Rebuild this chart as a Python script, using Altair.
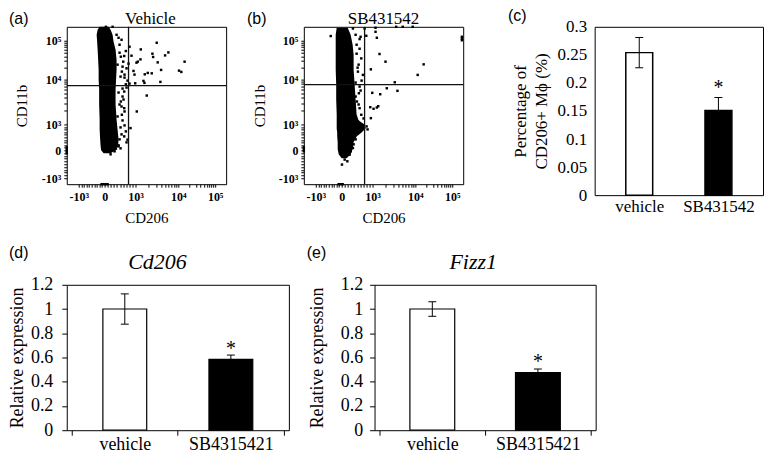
import altair as alt
import pandas as pd
import numpy as np

SERIF = "Liberation Serif"
SANS = "Liberation Sans"

# ---------------- flow cytometry panels (display-channel units) ----------------
flow_x_domain = [0, 160]
flow_y_domain = [0, 158]
flow_x_ticks = [12, 38, 69, 112, 149]
flow_y_ticks = [6, 34, 60, 105, 144]
flow_tick_labels = ["-10³", "0", "10³", "10⁴", "10⁵"]

veh_gate = [62, 99]
sb_gate = [61, 100]

# dense event cloud outline (y level, left edge, right edge)
veh_blob_y = [31, 34, 38, 45, 55, 65, 80, 95, 105, 115, 125, 135, 143, 150, 155, 158]
veh_blob_left = [37, 34.5, 34, 33.5, 33, 33, 32.5, 32.5, 32, 32, 31.5, 31, 30.5, 30, 31, 33]
veh_blob_right = [44, 49, 51.5, 52, 51, 50, 49, 49, 49.5, 50, 50, 49, 47, 46, 44, 42]

veh_pts_x = [74.3, 90.3, 86, 86.7, 102, 98.7, 91.3, 74, 71.3, 70, 118.3, 112.7, 115, 94.7, 85.3,
             81.3, 78.3, 67, 68, 77, 78, 94, 68.7, 80.3, 70.3, 64,
             59.3, 57.7, 54.3, 56.7, 60, 55.3, 58, 59.3, 57.7, 56, 54.3, 57.7, 55.3, 59.3, 57.7,
             52, 49.3, 61, 46, 39.3, 53, 55, 50, 56, 58, 61, 63, 60, 56, 57, 55, 58, 56, 58,
             55, 60, 54, 48, 44, 63, 65, 62, 52, 53, 51, 54, 52, 53, 51, 54, 53, 52,
             0, 0, 0, 0, 35, 37, 39, 41]
veh_pts_y = [135.3, 142, 131, 127.7, 132.3, 129.3, 122.3, 125.3, 123, 122, 123, 114, 112.7, 114.7, 111.3,
             111.7, 110.3, 113.7, 110, 103.7, 101.7, 102.7, 101.3, 89, 73, 56.3,
             133.7, 128.7, 128, 123, 116.3, 113, 107, 100.3, 93, 88, 83, 76.3, 69.7, 53, 48,
             39, 35.7, 44.7, 158, 158, 140, 145, 150, 118, 110, 104, 101, 97, 96, 85, 78, 73, 64, 59,
             50, 42, 36, 33, 30, 138, 129, 121, 147, 132, 120, 108, 92, 80, 68, 57, 45, 38,
             31, 33, 35, 37, 0, 0, 0, 0]

sb_blob_y = [26, 30, 35, 42, 48, 52, 56, 60, 64, 70, 85, 100, 115, 130, 140, 150, 157]
sb_blob_left = [38, 35, 34, 34, 33.5, 33.5, 33, 33, 33, 33, 32.5, 32.5, 32, 32, 32, 32, 33]
sb_blob_right = [43, 47, 49, 50, 53, 58, 62, 61, 55, 53, 52, 51, 50, 50, 49, 47, 44]

sb_pts_x = [27, 49.3, 61, 72, 92.7, 99.3, 109.3, 57, 62.7, 72, 73.3, 56, 76, 82, 67.3, 120.3, 114.3,
            91.3, 83.3, 94, 68.7, 76.7, 66.7, 70, 74.7, 73.3, 67.3, 158.7, 158.7, 158.7,
            56, 57.7, 54.3, 59.3, 56, 55.3, 53.3, 56, 57.7, 54.3, 49.3, 46, 43.7, 38.3, 41,
            53, 55, 58, 57, 52, 55, 60, 63, 64, 52, 50, 47, 52, 53, 54, 52, 51,
            0, 0, 0, 35, 37, 39]
sb_pts_y = [148.7, 156.3, 156.3, 157, 158, 158, 158, 148, 149, 153, 147, 145.7, 130.7, 123, 115.3, 120.3, 109.7,
            102.3, 96.3, 93.7, 91.7, 90.3, 77.3, 75.7, 78.3, 77, 66.3, 146.3, 148, 144.5,
            136, 126.3, 113, 109.7, 98, 91.3, 83, 76.3, 69.7, 63, 36.3, 29.7, 23, 19.7, 24.7,
            140, 120, 104, 94, 88, 80, 66, 58, 55, 45, 40, 33, 150, 131, 117, 102, 74,
            33, 35, 37, 0, 0, 0]

# ---------------- bar panels ----------------
c_groups = ["vehicle", "SB431542"]
c_mean = [0.254, 0.151]
c_err = [0.027, 0.023]
c_sig = ["", "*"]

d_groups = ["vehicle", "SB4315421"]
d_mean = [1.0, 0.585]
d_err = [0.125, 0.035]
d_sig = ["", "*"]

e_groups = ["vehicle", "SB4315421"]
e_mean = [1.0, 0.475]
e_err = [0.06, 0.03]
e_sig = ["", "*"]


def minor_positions(major):
    lo, zero, p3, p4, p5 = major
    m = []
    for v in range(-900, 1000, 100):
        if v == 0:
            continue
        if v < 0:
            m.append(round(zero + (zero - lo) * v / 1000, 2))
        else:
            m.append(round(zero + (p3 - zero) * v / 1000, 2))
    for k in range(2, 10):
        m.append(round(p3 + (p4 - p3) * np.log10(k), 2))
        m.append(round(p4 + (p5 - p4) * np.log10(k), 2))
    return m


def label_expr(ticks, labels):
    parts = [f"datum.value == {t} ? '{l}'" for t, l in zip(ticks, labels)]
    return " : ".join(parts) + " : ''"


def text_layer(txt, x, y, font, size, align="left", baseline="top", style="normal"):
    return alt.Chart(pd.DataFrame({"t": [txt]})).mark_text(
        font=font, fontSize=size, align=align, baseline=baseline, fontStyle=style, color="black"
    ).encode(x=alt.value(x), y=alt.value(y), text="t:N")


def flow_axis(ticks, title, is_y, w, h, title_off):
    vals = sorted(ticks + minor_positions(ticks))
    common = dict(
        values=vals, labelExpr=label_expr(ticks, flow_tick_labels),
        domain=False, grid=False, tickSize=3, tickColor="black", tickWidth=1,
        labelFont=SERIF, labelFontWeight="bold", labelFontSize=12, labelColor="black",
        labelOverlap=False, labelFlush=False, labelBound=False,
        title=title, titleFont=SERIF, titleFontSize=15, titleFontWeight="normal",
        titleColor="black", titleAlign="center", titleBaseline="middle",
    )
    if is_y:
        return alt.Axis(labelPadding=3, titleAngle=270, titleX=title_off, titleY=h / 2, **common)
    return alt.Axis(labelPadding=4, titleX=w / 2, titleY=title_off, **common)


def flow_panel(title, blob_y, blob_l, blob_r, px, py, gate, letter, letter_x, ytitle_x, title_dx):
    W, H = 160, 158
    xs = alt.Scale(domain=flow_x_domain, nice=False, zero=False)
    ys = alt.Scale(domain=flow_y_domain, nice=False, zero=False)
    xax = flow_axis(flow_x_ticks, "CD206", False, W, H, 33)
    yax = flow_axis(flow_y_ticks, "CD11b", True, W, H, ytitle_x)
    X = lambda f: alt.X(f, type="quantitative", scale=xs, axis=xax)
    Y = lambda f: alt.Y(f, type="quantitative", scale=ys, axis=yax)

    blob = pd.DataFrame({"y": blob_y, "x": blob_l, "x2": blob_r})
    pts = pd.DataFrame({"x": px, "y": py})
    gx = pd.DataFrame({"x": [gate[0]]})
    gy = pd.DataFrame({"y": [gate[1]]})

    area = alt.Chart(blob).mark_area(orient="horizontal", color="black", opacity=1).encode(
        y=Y("y"), x=X("x"), x2="x2")
    dots = alt.Chart(pts).mark_square(size=6, color="black", opacity=1).encode(x=X("x"), y=Y("y"))
    vr = alt.Chart(gx).mark_rule(color="#111", strokeWidth=1.3).encode(x=X("x"))
    hr = alt.Chart(gy).mark_rule(color="#111", strokeWidth=1.3).encode(y=Y("y"))
    lab = text_layer(letter, letter_x, -16, SANS, 16)
    ttl = text_layer(title, W / 2 + title_dx, -16, SERIF, 17, align="center")
    return alt.layer(area, dots, vr, hr, lab, ttl).properties(width=W, height=H)


def bar_panel(groups, means, errs, sigs, W, H, ymax, ystep, dec, bar_w, cap_w,
              letter, letter_xy, ytitle, ytitle_x, font_size, yticks, xticks,
              title=None, title_x=0, ylab_pad=8, xlab_pad=3, bar_stroke=1.2, star_dy=-4):
    n = len(groups)
    df = pd.DataFrame({"group": groups, "mean": means,
                       "lo": [m - e for m, e in zip(means, errs)],
                       "hi": [m + e for m, e in zip(means, errs)],
                       "sig": sigs})
    df["pos"] = np.arange(n) + 0.5
    xvals = [i * 0.5 for i in range(2 * n + 1)]
    xexpr = label_expr([i + 0.5 for i in range(n)], groups)
    xax = alt.Axis(values=xvals, labelExpr=xexpr, domain=False, grid=False,
                   tickSize=5 if xticks else 0, tickColor="black",
                   tickOpacity={"condition": {"test": "datum.value % 1 === 0", "value": 1 if xticks else 0},
                                "value": 0},
                   labelFont=SERIF, labelFontSize=font_size, labelColor="black",
                   labelPadding=xlab_pad, labelOverlap=False, labelFlush=False, labelBound=False, title=None)
    nsteps = int(round(ymax / ystep))
    yvals = [round(i * ystep, 3) for i in range(nsteps + 1)]
    yax = alt.Axis(values=yvals, labelExpr=f"format(datum.value, '.{dec}~f')", domain=False, grid=False,
                   ticks=yticks, tickSize=5, tickColor="black",
                   labelFont=SERIF, labelFontSize=font_size, labelColor="black", labelPadding=ylab_pad,
                   labelOverlap=False, labelFlush=False, labelBound=False,
                   title=ytitle, titleFont=SERIF, titleFontSize=font_size, titleFontWeight="normal",
                   titleColor="black", titleAngle=270, titleX=ytitle_x, titleY=H / 2,
                   titleAlign="center", titleBaseline="middle", titleLineHeight=21)
    xs = alt.Scale(domain=[0, n], nice=False, zero=False)
    ys = alt.Scale(domain=[0, ymax], nice=False, zero=True)
    X = alt.X("pos:Q", scale=xs, axis=xax)
    Y = lambda f: alt.Y(f, type="quantitative", scale=ys, axis=yax)
    bars = alt.Chart(df).mark_bar(size=bar_w, stroke="black", strokeWidth=bar_stroke, orient="vertical").encode(
        x=X, y=Y("mean"),
        fill=alt.condition("datum.pos < 1", alt.value("white"), alt.value("black")))
    err = alt.Chart(df).mark_rule(color="black", strokeWidth=1).encode(x=X, y=Y("lo"), y2="hi:Q")
    cap_hi = alt.Chart(df).mark_rule(color="black", strokeWidth=1, xOffset=-cap_w / 2, x2Offset=cap_w / 2).encode(
        x=X, x2="pos:Q", y=Y("hi"))
    cap_lo = alt.Chart(df).mark_rule(color="black", strokeWidth=1, xOffset=-cap_w / 2, x2Offset=cap_w / 2).encode(
        x=X, x2="pos:Q", y=Y("lo"))
    star = alt.Chart(df).mark_text(font=SERIF, fontSize=20, baseline="alphabetic", dy=star_dy, color="black").encode(
        x=X, y=Y("hi"), text="sig:N")
    layers = [bars, err, cap_hi, cap_lo, star, text_layer(letter, letter_xy[0], letter_xy[1], SANS, 16)]
    if title:
        layers.append(text_layer(title, title_x, -33, SERIF, 22, align="center", style="italic"))
    return alt.layer(*layers).properties(width=W, height=H)


pa = flow_panel("Vehicle", veh_blob_y, veh_blob_left, veh_blob_right, veh_pts_x, veh_pts_y, veh_gate,
                "(a)", -58, -45, 4)
pb = flow_panel("SB431542", sb_blob_y, sb_blob_left, sb_blob_right, sb_pts_x, sb_pts_y, sb_gate,
                "(b)", -57, -44, 0)

pc = bar_panel(c_groups, c_mean, c_err, c_sig, 169, 169, 0.3, 0.05, 2, 27, 8,
               "(c)", (-87, -19), ["Percentage of", "CD206+ Mϕ (%)"], -74, 17, False, False,
               ylab_pad=8, xlab_pad=3, bar_stroke=1.5, star_dy=-4)
pd_ = bar_panel(d_groups, d_mean, d_err, d_sig, 223, 146, 1.2, 0.2, 1, 44, 8,
                "(d)", (-58, -40), "Relative expression", -49, 18, True, True,
                title="Cd206", title_x=91, ylab_pad=9, xlab_pad=0, star_dy=0)
pe = bar_panel(e_groups, e_mean, e_err, e_sig, 222, 146, 1.2, 0.2, 1, 45, 8,
               "(e)", (-68, -40), "Relative expression", -57, 18, True, True,
               title="Fizz1", title_x=99, ylab_pad=7, xlab_pad=0, star_dy=-1)

row1 = alt.hconcat(alt.hconcat(pa, pb, spacing=78, bounds="flush"), pc, spacing=42)
row2 = alt.hconcat(pd_, pe, spacing=86, bounds="flush")

chart = alt.vconcat(row1, row2, spacing=18).properties(
    padding={"left": 0, "top": -2, "right": 0, "bottom": 0},
    background="white",
).configure_view(stroke="black", strokeWidth=1)

chart.save("out.html", embed_options={"renderer": "svg", "actions": False})
